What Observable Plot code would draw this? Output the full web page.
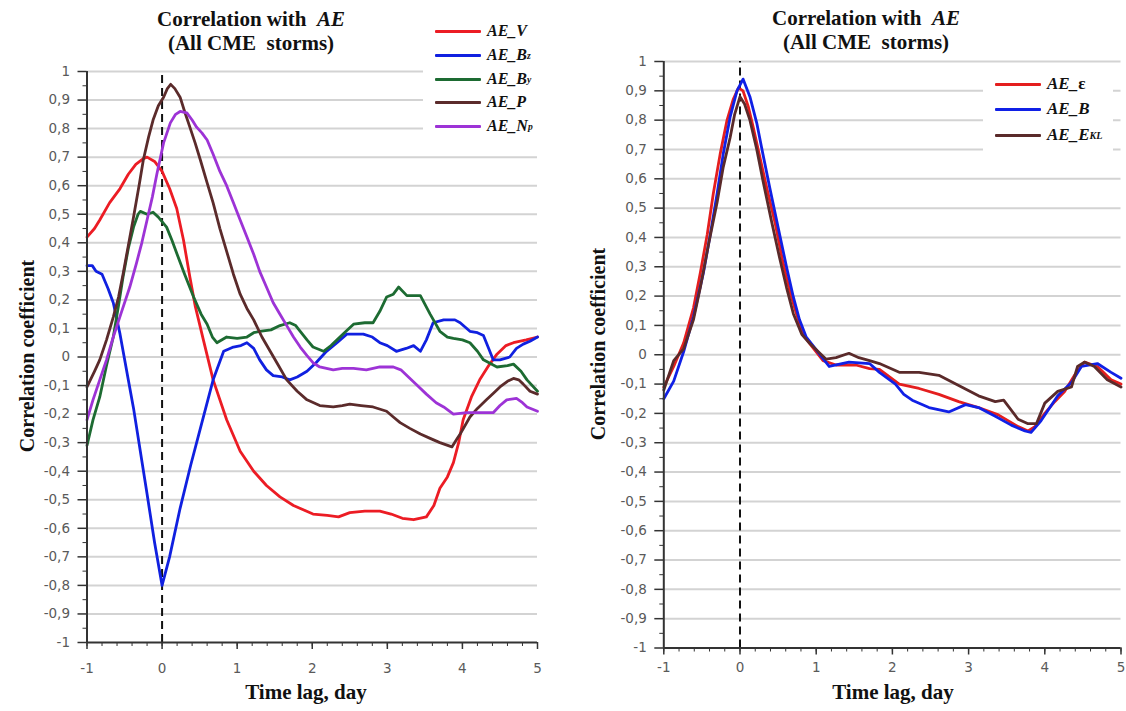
<!DOCTYPE html>
<html><head><meta charset="utf-8">
<script src="https://cdn.jsdelivr.net/npm/d3@7"></script>
<script src="https://cdn.jsdelivr.net/npm/@observablehq/plot@0.6"></script>
<style>
body{margin:0;background:#fff;}
#wrap{position:relative;width:1126px;height:711px;overflow:hidden;background:#fff;font-family:"Liberation Serif","Times New Roman",serif;color:#111;}
.panel{position:absolute;top:0;}
.title{position:absolute;width:320px;text-align:center;font-weight:bold;font-size:21px;line-height:24px;}
.xlab{position:absolute;width:300px;text-align:center;font-weight:bold;font-size:21px;}
.ylab{position:absolute;white-space:nowrap;font-weight:bold;font-size:20px;transform:translate(-50%,-50%) rotate(-90deg);}
.legend{position:absolute;background:#fff;}
.lg{position:absolute;left:0;height:20px;display:flex;align-items:center;font-style:italic;font-weight:bold;white-space:nowrap;}
.sw{width:46px;height:3px;margin-right:6px;border-radius:1px;}
sub{font-size:60%;vertical-align:-0.35em;}
</style>
</head><body>
<div id="wrap"></div>
<script>
// ---------- tick labels ----------
const yTicks = [-1,-0.9,-0.8,-0.7,-0.6,-0.5,-0.4,-0.3,-0.2,-0.1,0,0.1,0.2,0.3,0.4,0.5,0.6,0.7,0.8,0.9,1];
const xTicks = [-1,0,1,2,3,4,5];

// ---------- left panel series: [time lag (day), correlation] ----------
const aeV = [[-1,0.42],[-0.9,0.45],[-0.83,0.48],[-0.7,0.54],[-0.56,0.59],[-0.45,0.64],[-0.35,0.675],[-0.25,0.695],[-0.2,0.70],[-0.1,0.685],[0,0.65],[0.1,0.59],[0.195,0.52],[0.285,0.41],[0.37,0.28],[0.44,0.18],[0.55,0.06],[0.68,-0.08],[0.86,-0.22],[1.04,-0.33],[1.22,-0.40],[1.39,-0.45],[1.57,-0.49],[1.75,-0.52],[2.01,-0.55],[2.2,-0.555],[2.35,-0.56],[2.5,-0.545],[2.7,-0.54],[2.9,-0.54],[3.05,-0.55],[3.2,-0.565],[3.35,-0.57],[3.52,-0.56],[3.62,-0.52],[3.7,-0.46],[3.8,-0.42],[3.88,-0.37],[3.95,-0.30],[4.01,-0.22],[4.12,-0.14],[4.23,-0.08],[4.35,-0.03],[4.46,0.01],[4.58,0.04],[4.68,0.05],[4.85,0.06],[5,0.07]];
const aeBz = [[-1,0.32],[-0.93,0.32],[-0.88,0.30],[-0.8,0.29],[-0.72,0.24],[-0.65,0.19],[-0.56,0.08],[-0.45,-0.08],[-0.38,-0.18],[-0.2,-0.48],[-0.1,-0.65],[0,-0.80],[0.1,-0.70],[0.24,-0.53],[0.38,-0.38],[0.51,-0.25],[0.68,-0.08],[0.82,0.02],[0.95,0.035],[1.05,0.04],[1.13,0.05],[1.22,0.03],[1.3,-0.01],[1.39,-0.045],[1.48,-0.065],[1.6,-0.07],[1.7,-0.08],[1.8,-0.07],[1.93,-0.05],[2.05,-0.02],[2.19,0.02],[2.33,0.05],[2.46,0.08],[2.68,0.08],[2.8,0.07],[2.9,0.05],[3.0,0.04],[3.12,0.02],[3.25,0.03],[3.35,0.04],[3.44,0.02],[3.52,0.06],[3.61,0.12],[3.75,0.13],[3.9,0.13],[3.97,0.12],[4.1,0.09],[4.2,0.085],[4.28,0.075],[4.35,0.03],[4.41,-0.01],[4.5,-0.01],[4.63,0.0],[4.72,0.03],[4.81,0.045],[4.9,0.055],[5,0.07]];
const aeBy = [[-1,-0.31],[-0.92,-0.22],[-0.83,-0.14],[-0.74,-0.03],[-0.65,0.07],[-0.58,0.18],[-0.52,0.28],[-0.45,0.38],[-0.38,0.455],[-0.32,0.50],[-0.29,0.51],[-0.2,0.50],[-0.12,0.507],[-0.05,0.49],[0.06,0.455],[0.13,0.41],[0.2,0.36],[0.3,0.29],[0.42,0.21],[0.52,0.15],[0.6,0.115],[0.67,0.07],[0.73,0.05],[0.86,0.07],[1.0,0.065],[1.13,0.07],[1.22,0.085],[1.3,0.09],[1.45,0.095],[1.57,0.11],[1.7,0.12],[1.78,0.11],[1.84,0.09],[1.93,0.06],[2.01,0.035],[2.15,0.02],[2.25,0.04],[2.33,0.06],[2.45,0.09],[2.55,0.115],[2.7,0.12],[2.81,0.12],[2.9,0.16],[2.99,0.21],[3.08,0.22],[3.15,0.245],[3.26,0.215],[3.35,0.215],[3.44,0.215],[3.57,0.15],[3.7,0.09],[3.8,0.07],[3.88,0.065],[4.0,0.06],[4.1,0.05],[4.2,0.02],[4.28,-0.01],[4.46,-0.035],[4.6,-0.03],[4.68,-0.025],[4.78,-0.05],[4.86,-0.08],[5,-0.12]];
const aeP = [[-1,-0.105],[-0.9,-0.05],[-0.83,-0.01],[-0.74,0.06],[-0.65,0.14],[-0.58,0.21],[-0.52,0.29],[-0.45,0.39],[-0.38,0.49],[-0.3,0.61],[-0.25,0.69],[-0.18,0.77],[-0.12,0.83],[-0.05,0.88],[0.02,0.91],[0.07,0.94],[0.115,0.955],[0.17,0.94],[0.24,0.91],[0.3,0.86],[0.37,0.805],[0.44,0.75],[0.51,0.69],[0.6,0.61],[0.68,0.54],[0.77,0.45],[0.86,0.37],[0.95,0.29],[1.04,0.22],[1.13,0.17],[1.22,0.13],[1.33,0.07],[1.44,0.02],[1.55,-0.03],[1.66,-0.08],[1.8,-0.12],[1.93,-0.15],[2.1,-0.17],[2.28,-0.175],[2.4,-0.17],[2.5,-0.165],[2.65,-0.17],[2.81,-0.175],[2.99,-0.19],[3.08,-0.21],[3.17,-0.23],[3.3,-0.25],[3.44,-0.27],[3.57,-0.285],[3.7,-0.30],[3.86,-0.315],[3.92,-0.29],[3.97,-0.27],[4.1,-0.21],[4.2,-0.18],[4.32,-0.15],[4.42,-0.125],[4.5,-0.105],[4.6,-0.085],[4.68,-0.075],[4.75,-0.08],[4.81,-0.095],[4.9,-0.12],[5,-0.13]];
const aeNp = [[-1,-0.22],[-0.92,-0.15],[-0.83,-0.08],[-0.74,-0.01],[-0.65,0.07],[-0.55,0.15],[-0.43,0.245],[-0.34,0.33],[-0.27,0.40],[-0.2,0.48],[-0.13,0.56],[-0.07,0.64],[0.02,0.75],[0.11,0.82],[0.18,0.85],[0.24,0.86],[0.33,0.855],[0.4,0.83],[0.46,0.805],[0.53,0.785],[0.6,0.76],[0.68,0.71],[0.77,0.65],[0.86,0.60],[0.95,0.54],[1.04,0.48],[1.13,0.42],[1.22,0.36],[1.3,0.30],[1.39,0.245],[1.48,0.19],[1.57,0.15],[1.66,0.11],[1.75,0.07],[1.84,0.035],[1.93,0.005],[2.01,-0.02],[2.1,-0.035],[2.28,-0.045],[2.4,-0.04],[2.55,-0.04],[2.72,-0.045],[2.9,-0.035],[3.08,-0.035],[3.18,-0.045],[3.26,-0.065],[3.4,-0.10],[3.52,-0.13],[3.65,-0.16],[3.75,-0.175],[3.88,-0.20],[4.06,-0.195],[4.25,-0.195],[4.41,-0.195],[4.5,-0.17],[4.59,-0.15],[4.72,-0.145],[4.8,-0.16],[4.86,-0.175],[5,-0.19]];

// ---------- right panel series ----------
const aeEps = [[-1,-0.11],[-0.87,-0.04],[-0.74,0.04],[-0.61,0.16],[-0.52,0.28],[-0.43,0.41],[-0.35,0.55],[-0.26,0.685],[-0.17,0.80],[-0.09,0.87],[-0.02,0.91],[0.04,0.90],[0.11,0.845],[0.17,0.78],[0.26,0.675],[0.35,0.57],[0.46,0.45],[0.56,0.32],[0.65,0.22],[0.74,0.14],[0.83,0.07],[0.91,0.04],[1.09,-0.02],[1.26,-0.035],[1.52,-0.035],[1.7,-0.047],[1.83,-0.05],[2.09,-0.10],[2.35,-0.115],[2.61,-0.135],[2.87,-0.16],[3.13,-0.18],[3.39,-0.205],[3.65,-0.245],[3.78,-0.26],[3.87,-0.245],[4.0,-0.20],[4.13,-0.16],[4.26,-0.125],[4.39,-0.07],[4.52,-0.025],[4.69,-0.04],[4.87,-0.085],[5,-0.10]];
const aeB = [[-1,-0.15],[-0.87,-0.09],[-0.74,0.01],[-0.61,0.13],[-0.48,0.28],[-0.39,0.41],[-0.3,0.55],[-0.22,0.685],[-0.13,0.81],[-0.04,0.90],[0.04,0.94],[0.13,0.88],[0.22,0.79],[0.3,0.685],[0.39,0.57],[0.5,0.435],[0.61,0.30],[0.7,0.197],[0.78,0.12],[0.87,0.06],[0.96,0.03],[1.17,-0.04],[1.43,-0.025],[1.7,-0.03],[1.83,-0.06],[2.04,-0.10],[2.15,-0.135],[2.26,-0.155],[2.48,-0.18],[2.74,-0.195],[2.96,-0.17],[3.13,-0.18],[3.35,-0.21],[3.56,-0.24],[3.74,-0.26],[3.82,-0.265],[3.95,-0.225],[4.17,-0.14],[4.35,-0.095],[4.48,-0.04],[4.69,-0.03],[4.87,-0.06],[5,-0.08]];
const aeEkl = [[-1,-0.12],[-0.87,-0.02],[-0.74,0.02],[-0.61,0.12],[-0.52,0.23],[-0.41,0.38],[-0.3,0.52],[-0.22,0.64],[-0.13,0.74],[-0.07,0.82],[0,0.88],[0.06,0.855],[0.13,0.80],[0.22,0.70],[0.3,0.595],[0.41,0.46],[0.52,0.33],[0.61,0.23],[0.7,0.14],[0.81,0.07],[0.91,0.04],[1.13,-0.015],[1.26,-0.01],[1.43,0.005],[1.56,-0.01],[1.7,-0.02],[1.83,-0.03],[2.09,-0.06],[2.35,-0.06],[2.61,-0.07],[2.87,-0.105],[3.13,-0.14],[3.35,-0.16],[3.46,-0.155],[3.65,-0.22],[3.78,-0.235],[3.89,-0.235],[4.0,-0.165],[4.17,-0.125],[4.35,-0.11],[4.43,-0.04],[4.52,-0.025],[4.65,-0.04],[4.82,-0.085],[5,-0.11]];

// ---------- drawing ----------
const fmtY = d => { const r = Math.round(d * 10) / 10; return r === 0 ? "0" : String(r).replace(".", ","); };
const yMinor = d3.range(-19, 20, 2).map(i => i / 20);
const xMinor = d3.range(-5, 26).map(i => i / 5);

function panel({width, ml, mr, mt, mb, xPad, series}) {
  return Plot.plot({
    width, height: 711,
    marginLeft: ml, marginRight: mr, marginTop: mt, marginBottom: mb,
    x: {domain: [-1, 5]},
    y: {domain: [-1, 1]},
    style: {fontFamily: "'DejaVu Sans', Verdana, sans-serif", fontSize: "13px", background: "transparent", overflow: "visible"},
    marks: [
      Plot.ruleY(yTicks.filter(v => v > -1), {x1: -1, x2: 5, stroke: "#d3d3d3", strokeWidth: 2}),
      Plot.ruleX([0], {y1: -1, y2: 1, stroke: "#111", strokeWidth: 2, strokeDasharray: "8,5"}),
      ...series.map(s => Plot.line(s.data, {x: d => d[0], y: d => d[1], stroke: s.color, strokeWidth: 2.8, strokeLinejoin: "round"})),
      Plot.axisY({ticks: yMinor, tickSize: 4, tickFormat: () => "", label: null, color: "#333"}),
      Plot.axisY({ticks: yTicks, tickSize: 9, tickFormat: () => "", label: null, color: "#333", strokeWidth: 1.5}),
      Plot.axisY({ticks: yTicks, tickSize: 0, tickPadding: 17, tickFormat: fmtY, label: null, color: "#5a5a5a", fontSize: 13.5}),
      Plot.axisX({ticks: xMinor, tickSize: 4, tickFormat: () => "", label: null, color: "#333"}),
      Plot.axisX({ticks: xTicks, tickSize: 7, tickFormat: () => "", label: null, color: "#333", strokeWidth: 1.5}),
      Plot.axisX({ticks: xTicks, tickSize: 0, tickPadding: xPad, tickFormat: d => String(d), label: null, color: "#5a5a5a", fontSize: 13.5}),
      Plot.ruleX([-1], {stroke: "#333", strokeWidth: 2}),
      Plot.ruleY([-1], {stroke: "#333", strokeWidth: 2})
    ]
  });
}

const wrap = document.getElementById("wrap");

const left = panel({width: 560, ml: 86.5, mr: 23, mt: 71, mb: 69, xPad: 21, series: [
  {data: aeV, color: "#ec1c24"},
  {data: aeBz, color: "#1020e0"},
  {data: aeBy, color: "#1d6b32"},
  {data: aeP, color: "#5b2b2b"},
  {data: aeNp, color: "#9d33d6"}
]});
const ldiv = document.createElement("div"); ldiv.className = "panel"; ldiv.style.left = "0px"; ldiv.appendChild(left); wrap.appendChild(ldiv);

const right = panel({width: 546, ml: 83.3, mr: 5.5, mt: 61, mb: 63.5, xPad: 14, series: [
  {data: aeEps, color: "#e41e1e"},
  {data: aeB, color: "#1020e6"},
  {data: aeEkl, color: "#5a2a2a"}
]});
const rdiv = document.createElement("div"); rdiv.className = "panel"; rdiv.style.left = "580px"; rdiv.appendChild(right); wrap.appendChild(rdiv);

wrap.insertAdjacentHTML("beforeend", `
  <div class="title" style="left:91px;top:7px;">Correlation with&nbsp; <i>AE</i><br>(All CME&nbsp; storms)</div>
  <div class="title" style="left:706px;top:6px;">Correlation with&nbsp; <i>AE</i><br>(All CME&nbsp; storms)</div>
  <div class="xlab" style="left:156px;top:680px;">Time lag, day</div>
  <div class="xlab" style="left:743px;top:680px;">Time lag, day</div>
  <div class="ylab" style="left:27px;top:356px;">Correlation coefficient</div>
  <div class="ylab" style="left:598px;top:344px;">Correlation coefficient</div>
  <div class="legend" style="left:423px;top:10px;width:117px;height:130px;font-size:16px;">
    <div class="lg" style="top:11px;left:12px;"><div class="sw" style="background:#ec1c24"></div>AE_V</div>
    <div class="lg" style="top:35px;left:12px;"><div class="sw" style="background:#1020e0"></div>AE_B<sub>z</sub></div>
    <div class="lg" style="top:59px;left:12px;"><div class="sw" style="background:#1d6b32"></div>AE_B<sub>y</sub></div>
    <div class="lg" style="top:82px;left:12px;"><div class="sw" style="background:#5b2b2b"></div>AE_P</div>
    <div class="lg" style="top:106px;left:12px;"><div class="sw" style="background:#9d33d6"></div>AE_N<sub>p</sub></div>
  </div>
  <div class="legend" style="left:983px;top:66px;width:130px;height:90px;font-size:17px;">
    <div class="lg" style="top:8px;left:12px;"><div class="sw" style="background:#e41e1e"></div>AE_<span style="font-style:normal">ε</span></div>
    <div class="lg" style="top:33px;left:12px;"><div class="sw" style="background:#1020e6"></div>AE_B</div>
    <div class="lg" style="top:59px;left:12px;"><div class="sw" style="background:#5a2a2a"></div>AE_E<sub>KL</sub></div>
  </div>
`);
</script>
</body></html>
